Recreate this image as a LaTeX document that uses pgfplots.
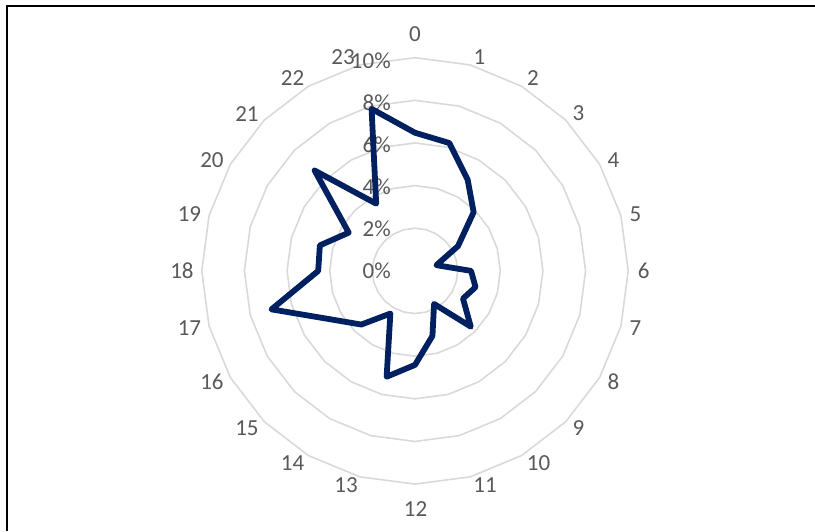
\documentclass[border=0pt]{standalone}
\usepackage{fontspec}
\setmainfont{Carlito}
\usepackage{pgfplots}
\usepackage{pgfplotstable}
\pgfplotsset{compat=1.18}

\definecolor{lbl}{HTML}{595959}
\definecolor{ringc}{HTML}{D9D9D9}
\definecolor{navy}{HTML}{002060}

% hour of day, share in %
% (row 24 repeats hour 0 to close the shape)
\pgfplotstableread{
h v
0 6.48
1 6.21
2 4.94
3 3.89
4 2.33
5 1.04
6 2.63
7 2.94
8 2.60
9 3.70
10 1.79
11 3.16
12 4.41
13 5.14
14 2.31
15 3.56
16 4.55
17 6.97
18 4.54
19 4.62
20 3.59
21 6.66
22 3.64
23 7.87
24 6.48
}\share

\begin{document}
\begin{tikzpicture}
\begin{axis}[
  width=815pt, height=531pt, scale only axis,
  xmin=-19.465, xmax=18.762,
  ymin=-12.2, ymax=12.706,
  hide axis, clip=false,
]
  % polygon gridlines
  \pgfplotsinvokeforeach{2,4,6,8,10}{
    \addplot[ringc, line width=1.6pt, data cs=polar]
      table[x expr=90-15*\thisrow{h}, y expr=#1] {\share};
  }
  % radial labels
  \pgfplotsinvokeforeach{0,2,4,6,8,10}{
    \node[anchor=east, text=lbl, inner sep=0pt,
          font=\fontsize{23}{27}\selectfont]
      at (axis cs:-1.13,#1*0.986) {#1\%};
  }
  \addplot[navy, line width=5.8pt, line join=round, line cap=round, data cs=polar]
    table[x expr=90-15*\thisrow{h}, y=v] {\share};
  \coordinate (O) at (axis cs:0,0);
  \coordinate (SW) at (rel axis cs:0,0);
  \coordinate (NE) at (rel axis cs:1,1);
  \draw[line width=1.8pt] (rel axis cs:0.0086,0) -- (rel axis cs:0.0086,0.988)
    -- (rel axis cs:1,0.988);
\end{axis}
% category labels (offsets from the centre)
\foreach \t/\dx/\dy in {0/0/237, 1/64.5/214, 2/118/192.5, 3/163.5/157.3,
    4/198.5/110.8, 5/220.5/57, 6/228.8/0, 7/220.5/-57, 8/198.5/-111,
    9/163.5/-157, 10/123.5/-192.5, 11/70/-214, 12/0.5/-238, 13/-69/-214,
    14/-122.5/-192.5, 15/-168/-157, 16/-203/-111, 17/-225.5/-57, 18/-233/0,
    19/-225.5/57, 20/-203/111, 21/-168/157.3, 22/-122.5/192.5, 23/-72/214}
  \node[text=lbl, inner sep=0pt, font=\fontsize{23}{27}\selectfont]
    at ([shift={(\dx pt,\dy pt)}]O) {\t};
\pgfresetboundingbox
\path[use as bounding box] (SW) rectangle (NE);
\end{tikzpicture}
\end{document}
